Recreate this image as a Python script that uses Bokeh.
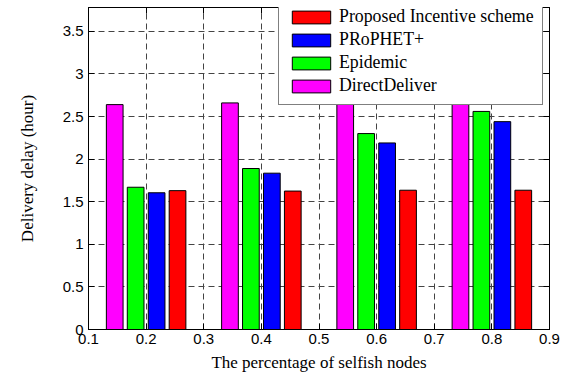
from bokeh.plotting import figure
from bokeh.models import (ColumnDataSource, FixedTicker, PrintfTickFormatter, LinearAxis,
                          Legend, LegendItem, Range1d)
from bokeh.transform import dodge
from bokeh.embed import file_html
from bokeh.resources import INLINE

# ---- data ----
selfish = [0.2, 0.4, 0.6, 0.8]
direct_deliver = [2.64, 2.66, 2.66, 2.645]
epidemic = [1.67, 1.89, 2.30, 2.56]
prophet_plus = [1.605, 1.835, 2.19, 2.44]
proposed = [1.63, 1.625, 1.635, 1.635]

x_ticks = [0.1, 0.2, 0.3, 0.4, 0.5, 0.6, 0.7, 0.8, 0.9]
y_ticks = [0, 0.5, 1, 1.5, 2, 2.5, 3, 3.5]

src = ColumnDataSource(dict(x=selfish, dd=direct_deliver, ep=epidemic,
                            pr=prophet_plus, ps=proposed))

SERIF = "Liberation Serif"
SANS = "Liberation Sans"

p = figure(frame_width=461, frame_height=322, output_backend="svg", toolbar_location=None,
           x_range=Range1d(0.1, 0.9), y_range=Range1d(0, 3.78),
           min_border_left=88, min_border_right=14, min_border_top=7, min_border_bottom=45,
           background_fill_color="white", border_fill_color="white")

p.outline_line_color = "black"
p.outline_line_width = 1
p.outline_line_alpha = 1

bw = 0.029
r_dd = p.vbar(x=dodge("x", -0.0545, range=p.x_range), top="dd", width=bw, source=src,
              fill_color="#FF00FF", line_color="black", line_width=1)
r_ep = p.vbar(x=dodge("x", -0.0182, range=p.x_range), top="ep", width=bw, source=src,
              fill_color="#00FF00", line_color="black", line_width=1)
r_pr = p.vbar(x=dodge("x", 0.0182, range=p.x_range), top="pr", width=bw, source=src,
              fill_color="#0000FF", line_color="black", line_width=1)
r_ps = p.vbar(x=dodge("x", 0.0545, range=p.x_range), top="ps", width=bw, source=src,
              fill_color="#FF0000", line_color="black", line_width=1)

# axes
for ax in (p.xaxis[0], p.yaxis[0]):
    ax.major_label_text_font = SANS
    ax.major_label_text_font_size = "15px"
    ax.major_label_text_color = "black"
    ax.axis_label_text_font = SERIF
    ax.axis_label_text_font_size = "17px"
    ax.axis_label_text_font_style = "normal"
    ax.axis_label_text_color = "black"
    ax.major_tick_in = 6
    ax.major_tick_out = 0
    ax.minor_tick_in = 0
    ax.minor_tick_out = 0
    ax.axis_line_color = "black"
    ax.major_tick_line_color = "black"
    ax.formatter = PrintfTickFormatter(format="%g")

p.xaxis[0].ticker = FixedTicker(ticks=x_ticks)
p.yaxis[0].ticker = FixedTicker(ticks=y_ticks)
p.xaxis[0].axis_label = "The percentage of selfish nodes"
p.yaxis[0].axis_label = "Delivery delay (hour)"
p.xaxis[0].major_label_standoff = 4
p.yaxis[0].major_label_standoff = 5
p.xaxis[0].axis_label_standoff = 6
p.yaxis[0].axis_label_standoff = 23

top_ax = LinearAxis(ticker=FixedTicker(ticks=x_ticks), major_label_text_font_size="0px",
                    major_label_text_color=None,
                    major_label_standoff=0, major_tick_in=6, major_tick_out=0,
                    minor_tick_in=0, minor_tick_out=0, axis_line_color="black")
right_ax = LinearAxis(ticker=FixedTicker(ticks=y_ticks), major_label_text_font_size="0px",
                      major_label_text_color=None,
                      major_label_standoff=0, major_tick_in=6, major_tick_out=0,
                      minor_tick_in=0, minor_tick_out=0, axis_line_color="black")
p.add_layout(top_ax, "above")
p.add_layout(right_ax, "right")

# grid
p.xgrid.ticker = FixedTicker(ticks=x_ticks[1:-1])
p.ygrid.ticker = FixedTicker(ticks=y_ticks[1:])
for g in (p.xgrid[0], p.ygrid[0]):
    g.grid_line_color = "#444444"
    g.grid_line_dash = "6 4"
    g.grid_line_width = 1
    g.grid_line_alpha = 1

legend = Legend(items=[
    LegendItem(label="Proposed Incentive scheme", renderers=[r_ps]),
    LegendItem(label="PRoPHET+", renderers=[r_pr]),
    LegendItem(label="Epidemic", renderers=[r_ep]),
    LegendItem(label="DirectDeliver", renderers=[r_dd]),
], location=(190, 224))
legend.label_text_font = SERIF
legend.label_text_font_size = "17.8px"
legend.label_text_color = "black"
legend.glyph_width = 48
legend.glyph_height = 16
legend.label_height = 20
legend.label_standoff = 4
legend.spacing = 2
legend.padding = 8
legend.margin = 0
legend.border_line_color = "black"
legend.border_line_width = 1
legend.background_fill_color = "white"
legend.background_fill_alpha = 1
p.add_layout(legend)

open("out.html", "w").write(file_html(p, INLINE))
